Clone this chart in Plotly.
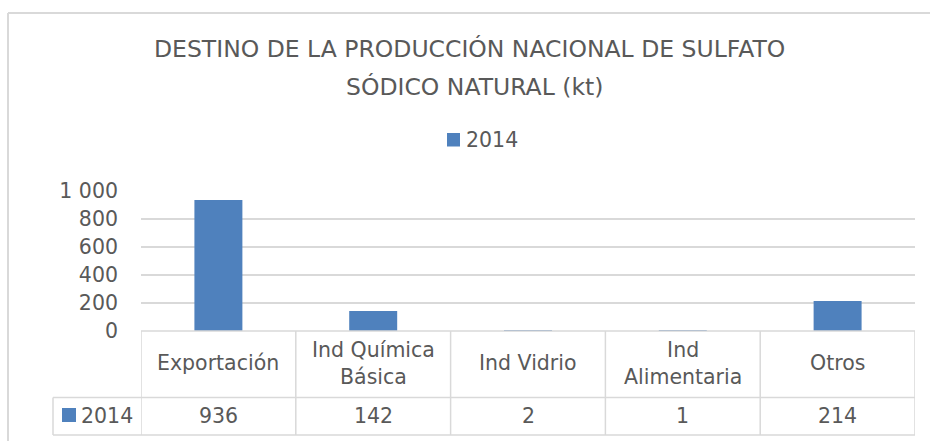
import plotly.graph_objects as go

# ---- data ----
categories = ["Exportación", "Ind Química<br>Básica", "Ind Vidrio", "Ind<br>Alimentaria", "Otros"]
values_2014 = [936, 142, 2, 1, 214]
series_name = "2014"
tick_values = [0, 200, 400, 600, 800, 1000]
tick_labels = ["0", "200", "400", "600", "800", "1 000"]
title_lines = ["DESTINO DE LA PRODUCCIÓN NACIONAL DE SULFATO", "SÓDICO NATURAL (kt)"]

# ---- layout constants (pixels) ----
W, H = 930, 441
L, R, T, B = 141, 15, 191, 110
PW = W - L - R
PH = H - T - B
BAR = "#4F81BD"
TXT = "#595959"
GRID = "#D9D9D9"
FONT = "DejaVu Sans"


def px(x):
    return (x - L) / PW


def py(y):
    return (H - B - y) / PH


fig = go.Figure()
fig.add_trace(go.Bar(x=list(range(len(categories))), y=values_2014, name=series_name,
                     marker=dict(color=BAR, line=dict(width=0)), width=0.31,
                     showlegend=False))

shapes = []
annotations = []

# title
annotations.append(dict(text=title_lines[0], x=px(469), y=py(49), xref="paper", yref="paper",
                        showarrow=False, xanchor="center", yanchor="middle",
                        font=dict(family=FONT, size=23.5, color=TXT)))
annotations.append(dict(text=title_lines[1], x=px(474), y=py(87), xref="paper", yref="paper",
                        showarrow=False, xanchor="center", yanchor="middle",
                        font=dict(family=FONT, size=23.5, color=TXT)))

# top legend
shapes.append(dict(type="rect", xref="paper", yref="paper", x0=px(447), x1=px(460),
                   y0=py(133), y1=py(146.5), fillcolor=BAR, line=dict(width=0)))
annotations.append(dict(text=series_name, x=px(464), y=py(140), xref="paper", yref="paper",
                        showarrow=False, xanchor="left", yanchor="middle",
                        font=dict(family=FONT, size=20.5, color=TXT)))

# outer chart border (top and left)
shapes.append(dict(type="line", xref="paper", yref="paper", x0=px(8), x1=px(935),
                   y0=py(13), y1=py(13), line=dict(color=GRID, width=2)))
shapes.append(dict(type="line", xref="paper", yref="paper", x0=px(8), x1=px(8),
                   y0=py(13), y1=py(445), line=dict(color=GRID, width=2)))

# data table
row1_top, row1_bot, row2_bot = 331, 397.5, 435
tbl_left = 53
lw = 1.5
shapes.append(dict(type="line", xref="paper", yref="paper", x0=px(L), x1=1,
                   y0=py(row1_top), y1=py(row1_top), line=dict(color=GRID, width=lw)))
for yy in (row1_bot, row2_bot):
    shapes.append(dict(type="line", xref="paper", yref="paper", x0=px(tbl_left), x1=1,
                       y0=py(yy), y1=py(yy), line=dict(color=GRID, width=lw)))
shapes.append(dict(type="line", xref="paper", yref="paper", x0=px(tbl_left), x1=px(tbl_left),
                   y0=py(row1_bot), y1=py(row2_bot), line=dict(color=GRID, width=lw)))
for i in range(len(categories) + 1):
    shapes.append(dict(type="line", xref="x", yref="paper", x0=i - 0.5, x1=i - 0.5,
                       y0=py(row1_top), y1=py(row2_bot), line=dict(color=GRID, width=lw)))

for i, (c, v) in enumerate(zip(categories, values_2014)):
    annotations.append(dict(text=c, x=i, y=py((row1_top + row1_bot) / 2 - 1), xref="x", yref="paper",
                            showarrow=False, xanchor="center", yanchor="middle",
                            font=dict(family=FONT, size=20.5, color=TXT)))
    annotations.append(dict(text=str(v), x=i, y=py((row1_bot + row2_bot) / 2), xref="x", yref="paper",
                            showarrow=False, xanchor="center", yanchor="middle",
                            font=dict(family=FONT, size=20.5, color=TXT)))

# table legend key
shapes.append(dict(type="rect", xref="paper", yref="paper", x0=px(62), x1=px(76),
                   y0=py(408), y1=py(422), fillcolor=BAR, line=dict(width=0)))
annotations.append(dict(text=series_name, x=px(79), y=py(416), xref="paper", yref="paper",
                        showarrow=False, xanchor="left", yanchor="middle",
                        font=dict(family=FONT, size=20.5, color=TXT)))

fig.update_layout(
    width=W, height=H,
    margin=dict(l=L, r=R, t=T, b=B, pad=0),
    paper_bgcolor="white", plot_bgcolor="white",
    shapes=shapes, annotations=annotations,
    showlegend=False,
    xaxis=dict(range=[-0.5, len(categories) - 0.5], showticklabels=False, showgrid=False,
               zeroline=False, showline=False, ticks="", fixedrange=True),
    yaxis=dict(range=[0, 1000], tickvals=tick_values, ticktext=tick_labels,
               showgrid=True, gridcolor=GRID, gridwidth=1.5, zeroline=False, showline=False,
               ticks="", ticklabelstandoff=22,
               tickfont=dict(family=FONT, size=20.5, color=TXT), fixedrange=True),
    font=dict(family=FONT, color=TXT),
)

fig.write_html(
    "out.html",
    config={"displayModeBar": False},
    post_script="document.body.style.margin='0';document.body.style.overflow='hidden';",
)
